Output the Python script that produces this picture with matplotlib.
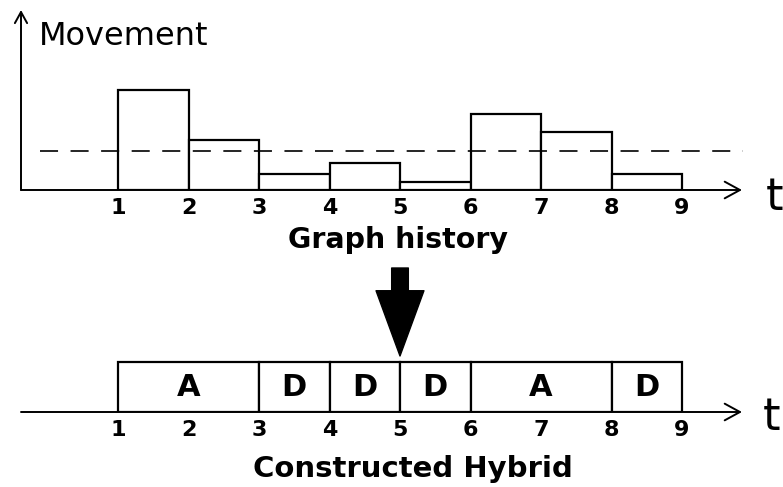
import matplotlib
matplotlib.use("Agg")
import matplotlib.pyplot as plt
from matplotlib.patches import FancyArrowPatch

plt.rcParams['font.family'] = ['DejaVu Sans']
plt.rcParams['lines.scale_dashes'] = False

# ---- data ----
bin_starts = [1, 2, 3, 4, 5, 6, 7, 8]
movement = [100, 50, 16, 27, 8, 76, 58, 16]
threshold = 39
time_ticks = [1, 2, 3, 4, 5, 6, 7, 8, 9]
seg_starts = [1, 3, 4, 5, 6, 8]
seg_ends = [3, 4, 5, 6, 8, 9]
seg_labels = ['A', 'D', 'D', 'D', 'A', 'D']
arrow_at = 5

W, H, DPI = 783, 487, 100
fig = plt.figure(figsize=(W / DPI, H / DPI), dpi=DPI)

px_per_unit = 70.5
x1_px = 118
xlim = (1 - x1_px / px_per_unit, 1 + (W - x1_px) / px_per_unit)
def xd(px):
    return 1 + (px - x1_px) / px_per_unit

lw = 1.6
axlw = 1.4
tick_fs = 16

# ---- top axes: graph history ----
ax1 = fig.add_axes([0, 297 / H, 1, 190 / H])
ax1.set_xlim(*xlim)
ax1.set_ylim(0, 190)
ax1.patch.set_alpha(0)
for s in ax1.spines.values():
    s.set_visible(False)
ax1.bar(bin_starts, movement, width=1, align='edge', facecolor='white',
        edgecolor='black', linewidth=lw, zorder=2)
ax1.hlines(threshold, xd(40), xd(743), colors='black', linewidth=1.2,
           linestyles=(0, (13, 9)), zorder=3)
ax1.set_xticks(time_ticks)
ax1.set_xticklabels([str(t) for t in time_ticks], fontsize=tick_fs, fontweight='bold')
ax1.tick_params(axis='x', length=0, pad=6)
ax1.set_yticks([])
ax1.add_patch(FancyArrowPatch((xd(21), 0), (xd(742), 0), arrowstyle='->,head_length=0.55,head_width=0.3',
                              mutation_scale=20, lw=axlw, color='black', shrinkA=0, shrinkB=0,
                              clip_on=False, zorder=4))
ax1.add_patch(FancyArrowPatch((xd(21), 0), (xd(21), 180), arrowstyle='->,head_length=0.4,head_width=0.22',
                              mutation_scale=20, lw=axlw, color='black', shrinkA=0, shrinkB=0,
                              clip_on=False, zorder=4))

# ---- bottom axes: constructed hybrid ----
ax2 = fig.add_axes([0, 75 / H, 1, 150 / H])
ax2.set_xlim(*xlim)
ax2.set_ylim(0, 150)
ax2.patch.set_alpha(0)
for s in ax2.spines.values():
    s.set_visible(False)
widths = [e - s for s, e in zip(seg_starts, seg_ends)]
box_h = 50
ax2.bar(seg_starts, [box_h] * len(seg_starts), width=widths, align='edge',
        facecolor='white', edgecolor='black', linewidth=lw, zorder=2)
for s, e, lab in zip(seg_starts, seg_ends, seg_labels):
    ax2.text((s + e) / 2, box_h / 2, lab, ha='center', va='center',
             fontsize=22, fontweight='bold', zorder=5)
ax2.set_xticks(time_ticks)
ax2.set_xticklabels([str(t) for t in time_ticks], fontsize=tick_fs, fontweight='bold')
ax2.tick_params(axis='x', length=0, pad=6)
ax2.set_yticks([])
ax2.add_patch(FancyArrowPatch((xd(21), 0), (xd(742), 0), arrowstyle='->,head_length=0.55,head_width=0.3',
                              mutation_scale=20, lw=axlw, color='black', shrinkA=0, shrinkB=0,
                              clip_on=False, zorder=4))
# big down arrow
ax2.add_patch(FancyArrowPatch((arrow_at, 144), (arrow_at, 56),
                              arrowstyle='simple,head_length=47,head_width=34.5,tail_width=12',
                              mutation_scale=1, color='black', shrinkA=0, shrinkB=0,
                              clip_on=False, zorder=6))

# ---- texts ----
fig.text(39 / W, 1 - 45 / H, 'Movement', fontsize=23, ha='left', va='baseline')
fig.text(766 / W, 1 - 210 / H, 't', fontsize=32, ha='left', va='baseline')
fig.text(763 / W, 1 - 430 / H, 't', fontsize=32, ha='left', va='baseline')
fig.text(398.5 / W, 1 - 248 / H, 'Graph history', fontsize=20.5, fontweight='bold',
         ha='center', va='baseline')
fig.text(413 / W, 1 - 477 / H, 'Constructed Hybrid', fontsize=21, fontweight='bold',
         ha='center', va='baseline')

fig.savefig('out.png', dpi=DPI)
